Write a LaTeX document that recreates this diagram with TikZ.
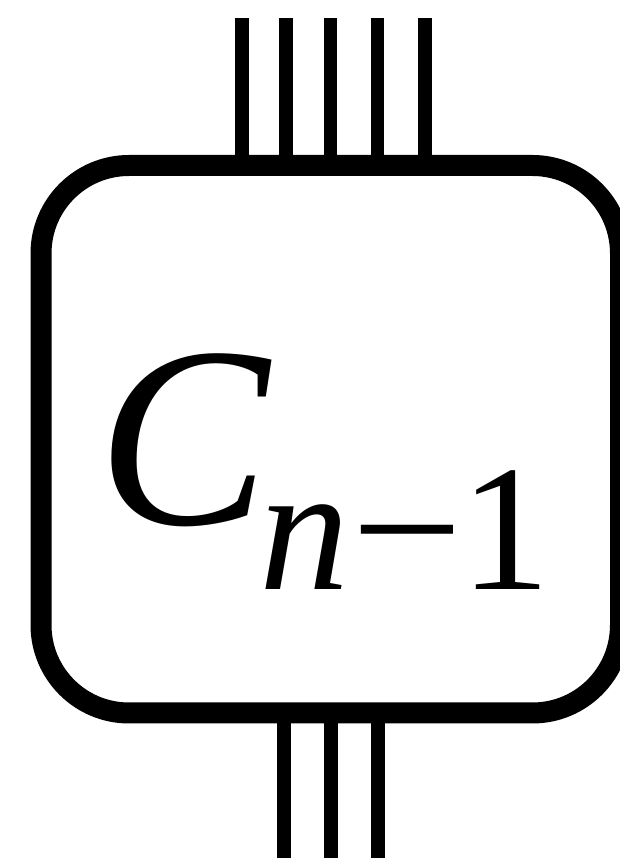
\documentclass[tikz,border=0pt]{standalone}
\usepackage{fontspec}
\usepackage{graphicx}
\setmainfont{Liberation Serif}
\newfontfamily\tmsit{Liberation Serif Italic}
\newfontfamily\tmsup{Liberation Serif}
\begin{document}
\begin{tikzpicture}[x=1pt,y=1pt,
  wire/.style={line width=13.5pt},
  blockbox/.style={draw, line width=21pt, rounded corners=88pt, inner sep=0pt,
    minimum width=579.5pt, minimum height=547.5pt}]
\useasboundingbox (0,0) rectangle (620,862);
\node[blockbox] (box) at (330.75,422.75) {};
\foreach \i/\x in {1/242,2/286,3/330.5,4/377.5,5/425}{
  \coordinate (t\i) at (\x,844);
  \draw[wire] (t\i) -- (t\i |- box.north);
}
\foreach \i/\x in {1/284,2/331,3/378}{
  \coordinate (b\i) at (\x,4);
  \draw[wire] (b\i) -- (b\i |- box.south);
}
\node[anchor=base west, inner sep=0pt] (label) at (97,337)
  {\fontsize{258}{258}\selectfont\tmsit C\kern-10pt\raisebox{-65pt}{\fontsize{180}{180}\selectfont\tmsit n\kern2pt\tmsup\scalebox{1.1}[1]{−}\kern-2pt 1}};
\end{tikzpicture}
\end{document}
